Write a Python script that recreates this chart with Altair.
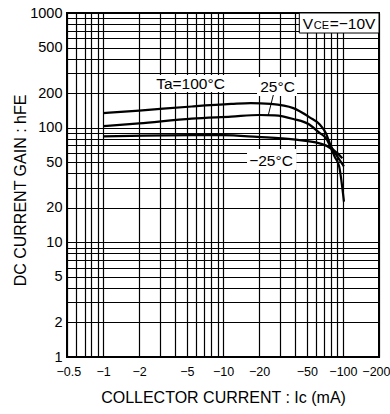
import json
import altair as alt
import pandas as pd

# ---------------- data ----------------
# |Ic| in mA (axis shows negative values), hFE
ic_100 = [1, 2, 5.5, 11.7, 17, 25, 38.6, 52.8, 63.8, 72.3, 79, 90, 102]
hfe_100 = [134, 141, 153, 161, 164, 161, 148, 123, 107, 89, 70, 56, 46]
ic_25 = [1, 2, 5.5, 11.7, 20, 27, 38.6, 52.8, 63.8, 72.3, 79, 90, 99]
hfe_25 = [103, 109, 120, 125, 129, 128, 119, 106, 90, 81, 68, 60, 54]
ic_m25 = [1, 5.5, 10, 19.4, 38.6, 63.8, 79, 86, 93, 102]
hfe_m25 = [84, 86, 86, 83, 79, 73, 66, 55, 46, 22.6]

# axis grid / labels
x_grid = [0.5, 0.6, 0.7, 0.8, 0.9, 1, 2, 3, 4, 5, 6, 7, 8, 9,
          10, 20, 30, 40, 50, 60, 70, 80, 90, 100, 200]
x_labels = [0.5, 1, 2, 5, 10, 20, 50, 100, 200]
y_grid = [1, 2, 3, 4, 5, 6, 7, 8, 9, 10, 20, 30, 40, 50, 60, 70, 80, 90,
          100, 200, 300, 400, 500, 600, 700, 800, 900, 1000]
y_labels = [1, 2, 5, 10, 20, 50, 100, 200, 500, 1000]

# curve labels (data coordinates) and their white boxes
lab_text = ["Ta=100°C", "25°C", "−25°C"]
lab_ic = [5.36, 28.48, 25.14]
lab_hfe = [242.7, 226.2, 51.2]
box_ic1 = [2.56, 19.22, 15.86]
box_ic2 = [11.67, 41.43, 41.0]
box_h1 = [287.8, 276.6, 65.2]
box_h2 = [204.7, 188.9, 42.7]

# leader line for 25°C
lead_ic = [26.28]
lead_ic2 = [23.87]
lead_h = [192.7]
lead_h2 = [128.9]

# condition box
cond_parts = ["V", "CE", "=−10V"]
cond_size = [15.5, 11, 15.5]
cond_dx = [0, 11, 27]
cond_ic = 46.23
cond_h = 724.5
cond_box_ic = [43.3, 200]
cond_box_h = [669, 1000]

FONT = "Liberation Sans, Arial, sans-serif"

# ---------------- tables ----------------
curves = pd.concat([
    pd.DataFrame({"x1": ic_100, "y1": hfe_100, "s": "100"}),
    pd.DataFrame({"x1": ic_25, "y1": hfe_25, "s": "25"}),
    pd.DataFrame({"x1": ic_m25, "y1": hfe_m25, "s": "-25"}),
])
labels = pd.DataFrame({"t": lab_text, "x1": lab_ic, "y1": lab_hfe})
boxes = pd.DataFrame({"x1": box_ic1, "x2": box_ic2, "y1": box_h1, "y2": box_h2})
lead = pd.DataFrame({"x1": lead_ic, "x2": lead_ic2, "y1": lead_h, "y2": lead_h2})
cond = pd.DataFrame({"t": cond_parts, "x1": [cond_ic] * 3, "y1": [cond_h] * 3})
cond_box = pd.DataFrame({"x1": [cond_box_ic[0]], "x2": [cond_box_ic[1]],
                         "y1": [cond_box_h[0]], "y2": [cond_box_h[1]]})

xs = alt.Scale(type="log", domain=[0.5, 200])
ys = alt.Scale(type="log", domain=[1, 1000])

x_axis = alt.Axis(
    values=x_grid,
    labelExpr="indexof(%s, datum.value) >= 0 ? '−' + datum.value : ''" % json.dumps(x_labels),
    grid=True, gridColor="#000", gridWidth=1.2, gridOpacity=1,
    ticks=False, domain=False, labelFlush=True, labelFlushOffset=11, labelOverlap=False,
    labelFont=FONT, labelFontSize=12.5, labelColor="#000",
    labelBaseline="middle", labelPadding=14,
    title="COLLECTOR CURRENT : Ic (mA)", titleFont=FONT, titleFontSize=16,
    titleFontWeight="normal", titleColor="#000",
    titleX=156, titleY=40.5, titleBaseline="middle", titleAlign="center",
)
y_axis = alt.Axis(
    values=y_grid,
    labelExpr="indexof(%s, datum.value) >= 0 ? datum.value : ''" % json.dumps(y_labels),
    grid=True, gridColor="#000", gridWidth=1.2, gridOpacity=1,
    ticks=False, domain=False, labelFlush=False, labelOverlap=False,
    labelFont=FONT, labelFontSize=14.5, labelColor="#000", labelPadding=5,
    title="DC CURRENT GAIN : hFE", titleFont=FONT, titleFontSize=16,
    titleFontWeight="normal", titleColor="#000",
    titleX=-47, titleY=177, titleAngle=270, titleBaseline="middle", titleAlign="center",
)

X = alt.X("x1:Q", scale=xs, axis=x_axis)
Y = alt.Y("y1:Q", scale=ys, axis=y_axis)

box_layer = alt.Chart(boxes).mark_rect(fill="white").encode(x=X, x2="x2", y=Y, y2="y2")
cond_box_layer = alt.Chart(cond_box).mark_rect(fill="white", stroke="#000", strokeWidth=1).encode(
    x=X, x2="x2", y=Y, y2="y2")
lines = alt.Chart(curves).mark_line(color="#000", strokeWidth=2.2, interpolate="monotone").encode(
    x=X, y=Y, detail="s:N")
lead_layer = alt.Chart(lead).mark_rule(color="#000", strokeWidth=1).encode(
    x=X, x2="x2", y=Y, y2="y2")
label_layer = alt.Chart(labels).mark_text(font=FONT, fontSize=15.5, color="#000",
                                          align="center", baseline="middle").encode(
    x=X, y=Y, text="t:N")
cond_layers = []
for i in range(len(cond_parts)):
    cond_layers.append(
        alt.Chart(cond.iloc[[i]]).mark_text(font=FONT, fontSize=cond_size[i], color="#000",
                                           align="left", baseline="alphabetic", dx=cond_dx[i]).encode(
            x=X, y=Y, text="t:N")
    )

chart = alt.layer(box_layer, cond_box_layer, lines, lead_layer, label_layer, *cond_layers).properties(
    width=312, height=344,
    autosize=alt.AutoSizeParams(type="none"),
    padding={"left": 67, "top": 13, "right": 11, "bottom": 57},
    background="white",
).configure_view(stroke="#000", strokeWidth=2)

chart.save("out.html", embed_options={"renderer": "svg", "actions": False})
